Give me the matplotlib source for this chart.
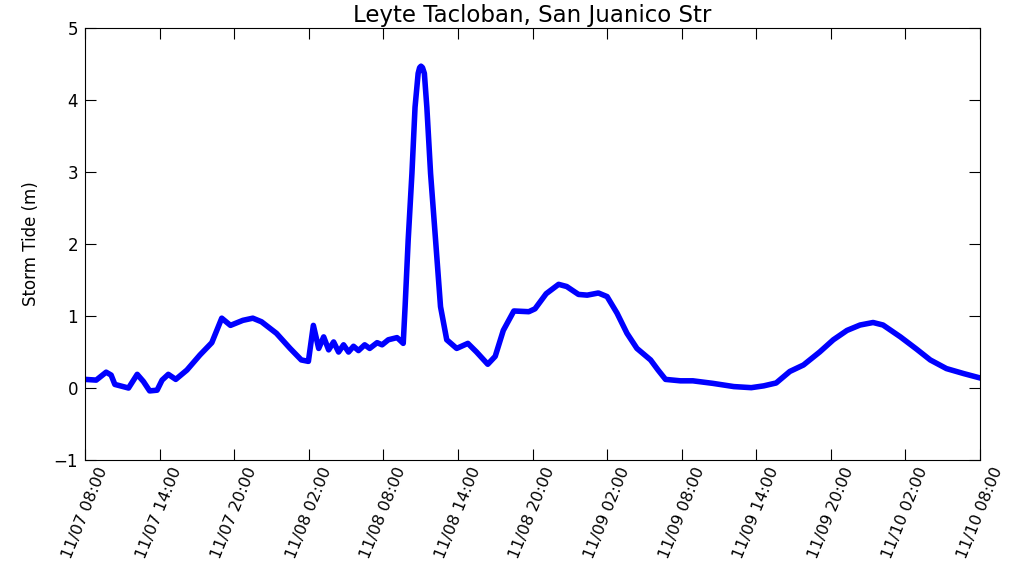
import matplotlib
matplotlib.use("Agg")
import matplotlib.pyplot as plt
import matplotlib.dates as mdates
import numpy as np
import pandas as pd

# hours after 2013-11-07 08:00 and storm tide (m)
hours = [0.0, 0.9, 1.7, 2.1, 2.4, 3.5, 4.2, 4.7, 5.2, 5.8, 6.2, 6.7, 7.3, 8.2,
         9.25, 10.2, 11.0, 11.7, 12.7, 13.5, 14.2, 15.4, 16.5, 17.4, 17.97,
         18.37, 18.8, 19.2, 19.6, 20.0, 20.4, 20.8, 21.2, 21.6, 22.0, 22.5,
         22.9, 23.5, 23.9, 24.4, 25.1, 25.3, 25.6, 25.75, 26.0, 26.3, 26.55,
         26.8, 26.92, 27.03, 27.15, 27.3, 27.5, 27.8, 28.2, 28.6, 29.1, 29.9,
         30.8, 31.5, 32.4, 33.0, 33.65, 34.5, 35.7, 36.2, 37.1, 38.1, 38.75,
         39.7, 40.4, 41.3, 42.0, 42.8, 43.6, 44.4, 45.5, 46.1, 46.7, 47.9,
         48.9, 50.5, 52.2, 53.6, 54.6, 55.6, 56.7, 57.8, 59.1, 60.2, 61.3,
         62.35, 63.4, 64.2, 65.6, 66.9, 68.0, 69.3, 70.7, 72.0]
tide = [0.12, 0.11, 0.22, 0.18, 0.05, 0.0, 0.19, 0.09, -0.04, -0.03, 0.11,
        0.19, 0.12, 0.25, 0.46, 0.63, 0.97, 0.87, 0.94, 0.97, 0.92, 0.76,
        0.55, 0.39, 0.37, 0.87, 0.55, 0.71, 0.53, 0.64, 0.5, 0.6, 0.5, 0.58,
        0.52, 0.6, 0.55, 0.63, 0.6, 0.67, 0.7, 0.67, 0.62, 1.13, 2.06, 2.98,
        3.9, 4.37, 4.45, 4.47, 4.45, 4.37, 3.9, 2.98, 2.06, 1.13, 0.67, 0.55,
        0.62, 0.5, 0.33, 0.44, 0.8, 1.07, 1.06, 1.1, 1.31, 1.44, 1.41, 1.3,
        1.29, 1.32, 1.27, 1.04, 0.76, 0.55, 0.39, 0.25, 0.12, 0.1, 0.1, 0.065,
        0.02, 0.005, 0.03, 0.07, 0.23, 0.32, 0.5, 0.67, 0.8, 0.875, 0.91,
        0.875, 0.71, 0.54, 0.39, 0.27, 0.2, 0.14]

start = pd.Timestamp("2013-11-07 08:00")
times = [start + pd.Timedelta(hours=h) for h in hours]

fig = plt.figure(figsize=(10.28, 5.65), dpi=100)
ax = fig.add_axes([0.0827, 0.1858, 0.8706, 0.7646])
ax.plot(times, tide, color="blue", lw=4, solid_joinstyle="round")

ax.set_xlim(start, start + pd.Timedelta(hours=72))
ax.set_ylim(-1, 5)
ax.set_yticks([-1, 0, 1, 2, 3, 4, 5])
ax.xaxis.set_major_locator(mdates.HourLocator(byhour=[2, 8, 14, 20]))
ax.xaxis.set_major_formatter(mdates.DateFormatter("%m/%d %H:%M"))
ax.tick_params(direction="in", length=8, top=True, right=True, labelsize=11.5)
ax.tick_params(axis="y", labelsize=12, pad=5)
plt.setp(ax.get_xticklabels(), rotation=68, ha="center")
ax.set_ylabel("Storm Tide (m)", fontsize=12, labelpad=10)
ax.set_title("Leyte Tacloban, San Juanico Str", fontsize=16.5, pad=4)

fig.savefig("out.png", dpi=100)
